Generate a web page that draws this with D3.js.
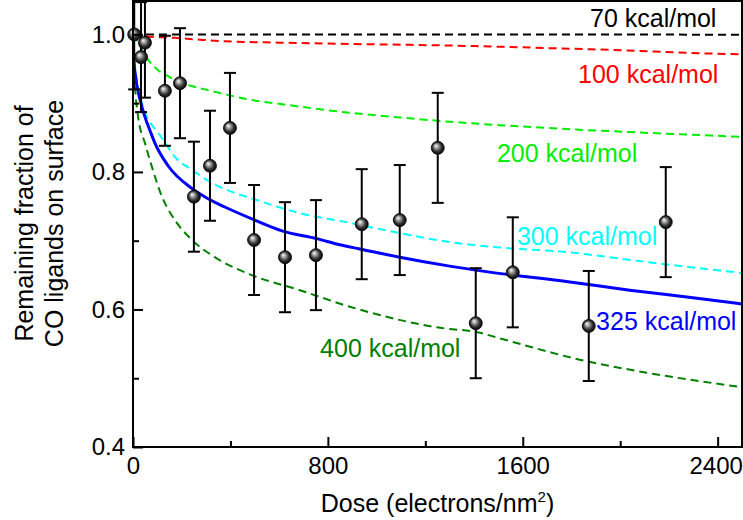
<!DOCTYPE html>
<html>
<head>
<meta charset="utf-8">
<script src="https://cdn.jsdelivr.net/npm/d3@7"></script>
<style>
  html, body { margin: 0; padding: 0; background: #fff; }
  svg { display: block; font-family: "Liberation Sans", Arial, sans-serif; }
</style>
</head>
<body>
<svg id="chart" width="743" height="520"></svg>
<script>
// ---- data ----
const pointDose = [5, 33, 49, 131, 193, 250, 316, 398, 497, 624, 751, 939, 1095, 1251, 1407, 1559, 1871, 2187];
const pointFraction = [1.0, 0.967, 0.988, 0.918, 0.929, 0.764, 0.809, 0.864, 0.701, 0.676, 0.679, 0.724, 0.730, 0.835, 0.580, 0.654, 0.576, 0.727];
const pointError = [0.08, 0.08, 0.08, 0.08, 0.08, 0.08, 0.08, 0.08, 0.08, 0.08, 0.08, 0.08, 0.08, 0.08, 0.08, 0.08, 0.08, 0.08];

const dose70 = [0, 500, 1000, 1500, 2000, 2500];
const frac70 = [1.0, 1.0, 1.0, 1.0, 0.9998, 0.9995];

const dose100 = [0, 50, 170, 285, 380, 600, 900, 1100, 1400, 1711, 2000, 2285, 2500];
const frac100 = [1.0, 0.997, 0.995, 0.992, 0.990, 0.988, 0.986, 0.985, 0.983, 0.980, 0.977, 0.973, 0.971];

const dose200 = [0, 10, 21, 40, 62, 103, 150, 185, 240, 295, 365, 480, 600, 890, 1100, 1300, 1506, 1800, 2100, 2500];
const frac200 = [1.0, 0.995, 0.988, 0.975, 0.963, 0.948, 0.938, 0.931, 0.925, 0.920, 0.914, 0.905, 0.899, 0.886, 0.879, 0.873, 0.868, 0.862, 0.857, 0.851];

const dose300 = [0, 3, 10, 20, 41, 70, 103, 140, 172, 242, 324, 406, 500, 685, 890, 1095, 1300, 1506, 1764, 2109, 2500];
const frac300 = [1.0, 0.975, 0.95, 0.925, 0.894, 0.872, 0.857, 0.838, 0.822, 0.803, 0.784, 0.771, 0.760, 0.740, 0.726, 0.711, 0.698, 0.690, 0.684, 0.669, 0.653];

const dose325 = [0, 3, 10, 29, 49, 70, 90, 144, 242, 308, 377, 500, 615, 755, 849, 931, 1095, 1300, 1450, 1793, 2039, 2298, 2500];
const frac325 = [1.0, 0.965, 0.94, 0.905, 0.880, 0.860, 0.842, 0.809, 0.776, 0.761, 0.749, 0.730, 0.714, 0.703, 0.694, 0.688, 0.676, 0.663, 0.655, 0.640, 0.628, 0.617, 0.608];

const dose400 = [0, 4, 10, 21, 49, 78, 119, 172, 242, 336, 480, 685, 890, 1247, 1424, 1506, 1834, 2109, 2500];
const frac400 = [1.0, 0.95, 0.915, 0.880, 0.842, 0.807, 0.764, 0.730, 0.701, 0.676, 0.651, 0.628, 0.604, 0.574, 0.566, 0.558, 0.527, 0.508, 0.487];

const curveNames = ["70 kcal/mol", "100 kcal/mol", "200 kcal/mol", "300 kcal/mol", "325 kcal/mol", "400 kcal/mol"];
const curveColors = ["#000000", "#ff0000", "#00ee00", "#00ffff", "#0000ff", "#008000"];
const labelDose = [1876, 1827, 1494, 1576, 1901, 768];
const labelFrac = [1.011, 0.929, 0.814, 0.694, 0.570, 0.531];

const xMajorTicks = [0, 800, 1600, 2400];
const xMinorTicks = [400, 1200, 2000];
const yMajorTicks = [0.4, 0.6, 0.8, 1.0];
const yMinorTicks = [0.5, 0.7, 0.9];

// ---- layout ----
const svg = d3.select("#chart");
const L = 133, R = 742, T = 0, B = 447;
const x = d3.scaleLinear().domain([0, 2500]).range([L, R]);
const y = d3.scaleLinear().domain([0.4, 1.05]).range([B, T]);

const defs = svg.append("defs");
defs.append("clipPath").attr("id", "plotclip")
  .append("rect").attr("x", L).attr("y", T).attr("width", R - L).attr("height", B - T);
const grad = defs.append("radialGradient").attr("id", "ball")
  .attr("cx", "50%").attr("cy", "50%").attr("r", "55%").attr("fx", "35%").attr("fy", "32%");
grad.append("stop").attr("offset", "0%").attr("stop-color", "#ffffff");
grad.append("stop").attr("offset", "25%").attr("stop-color", "#b0b0b0");
grad.append("stop").attr("offset", "65%").attr("stop-color", "#303030");
grad.append("stop").attr("offset", "100%").attr("stop-color", "#000000");

// ---- curves ----
const curves = [
  [dose70, frac70], [dose100, frac100], [dose200, frac200],
  [dose300, frac300], [dose325, frac325], [dose400, frac400]
];
const line = d3.line().x(d => x(d[0])).y(d => y(d[1])).curve(d3.curveMonotoneX);
const gCurves = svg.append("g").attr("clip-path", "url(#plotclip)");
curves.forEach((c, i) => {
  const pts = c[0].map((d, j) => [d, c[1][j]]);
  gCurves.append("path")
    .attr("d", line(pts))
    .attr("fill", "none")
    .attr("stroke", curveColors[i])
    .attr("stroke-width", i === 4 ? 3 : 2)
    .attr("stroke-dasharray", i === 4 ? null : "8,5");
});

// ---- error bars and points ----
const gPts = svg.append("g");
pointDose.forEach((d, i) => {
  const cx = x(d);
  const y1 = y(pointFraction[i] + pointError[i]);
  const y2 = y(pointFraction[i] - pointError[i]);
  gPts.append("line").attr("x1", cx).attr("x2", cx).attr("y1", y1).attr("y2", y2)
    .attr("stroke", "#000").attr("stroke-width", 2);
  [y1, y2].forEach(yy => {
    gPts.append("line").attr("x1", cx - 6).attr("x2", cx + 6).attr("y1", yy).attr("y2", yy)
      .attr("stroke", "#000").attr("stroke-width", 2);
  });
});
pointDose.forEach((d, i) => {
  gPts.append("circle").attr("cx", x(d)).attr("cy", y(pointFraction[i])).attr("r", 6.5)
    .attr("fill", "url(#ball)").attr("stroke", "#000").attr("stroke-width", 0.8);
});

// ---- labels ----
curveNames.forEach((n, i) => {
  svg.append("text").attr("x", x(labelDose[i])).attr("y", y(labelFrac[i]))
    .attr("fill", curveColors[i]).attr("font-size", 25).text(n);
});

// ---- axes ----
const fs = 24;
svg.append("g").attr("transform", `translate(0,${B})`)
  .call(d3.axisBottom(x).tickValues(xMajorTicks).tickSize(-10).tickPadding(10).tickFormat(d3.format("d")));
svg.append("g").attr("transform", `translate(0,${B})`)
  .call(d3.axisBottom(x).tickValues(xMinorTicks).tickSize(-6).tickFormat(""));
svg.append("g").attr("transform", `translate(${L},0)`)
  .call(d3.axisLeft(y).tickValues(yMajorTicks).tickSize(-10).tickPadding(8).tickFormat(d3.format(".1f")));
svg.append("g").attr("transform", `translate(${L},0)`)
  .call(d3.axisLeft(y).tickValues(yMinorTicks).tickSize(-6).tickFormat(""));

svg.selectAll(".domain").remove();
svg.selectAll(".tick line").attr("stroke", "#000").attr("stroke-width", 2);
svg.selectAll(".tick text").attr("font-size", fs).attr("font-family", "Liberation Sans, Arial, sans-serif").attr("fill", "#000");
// keep the last x tick label inside the picture
svg.selectAll(".tick text").filter(d => d === 2400).attr("dx", -2);

// frame
svg.append("rect").attr("x", L).attr("y", T + 1).attr("width", R - L).attr("height", B - T - 1)
  .attr("fill", "none").attr("stroke", "#000").attr("stroke-width", 2);

// axis titles
const xt = svg.append("text").attr("x", (L + R) / 2).attr("y", 512).attr("text-anchor", "middle")
  .attr("font-size", 25).attr("fill", "#000");
xt.append("tspan").text("Dose (electrons/nm");
xt.append("tspan").attr("font-size", 15).attr("dy", -10).text("2");
xt.append("tspan").attr("dy", 10).text(")");

svg.append("text").attr("transform", `translate(33,${(T + B) / 2}) rotate(-90)`)
  .attr("text-anchor", "middle").attr("font-size", 25).attr("fill", "#000").text("Remaining fraction of");
svg.append("text").attr("transform", `translate(63,${(T + B) / 2}) rotate(-90)`)
  .attr("text-anchor", "middle").attr("font-size", 25).attr("fill", "#000").text("CO ligands on surface");
</script>
</body>
</html>
